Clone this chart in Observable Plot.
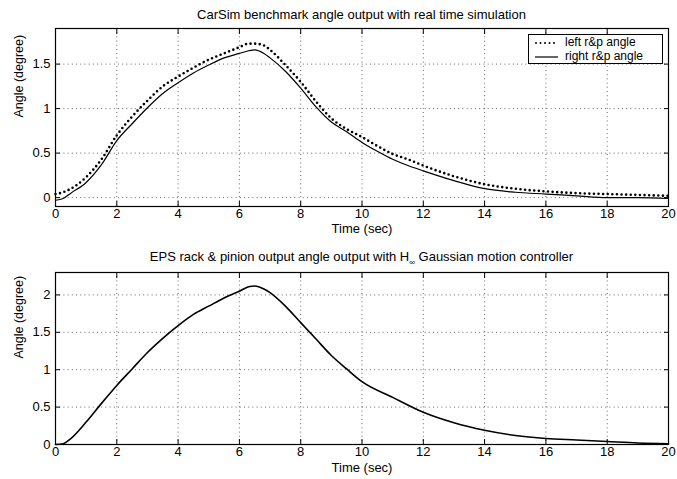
<!DOCTYPE html>
<html><head><meta charset="utf-8">
<script src="https://cdn.jsdelivr.net/npm/d3@7"></script>
<script src="https://cdn.jsdelivr.net/npm/@observablehq/plot@0.6"></script>
<style>
body{margin:0;background:#fff;font-family:"Liberation Sans",Arial,sans-serif;}
#wrap{position:relative;width:677px;height:479px;overflow:hidden;background:#fff}
.title{position:absolute;left:55px;width:613px;text-align:center;font-size:13px;color:#000;line-height:15px;white-space:nowrap}
.title sub{font-size:8px;vertical-align:-4px;line-height:0}
.p{position:absolute;left:0}
#legend{position:absolute;left:528px;top:34px;width:133px;height:28px;border:1px solid #000;background:#fff;font-size:12px;color:#000}
#legend .row{position:absolute;left:0;height:14px;line-height:14px;white-space:nowrap}
#legend svg{position:absolute;left:5px;top:0}
#legend span{position:absolute;left:36px;top:0;line-height:13px}
</style></head><body>
<div id="wrap">
  <div class="title" style="top:7px">CarSim benchmark angle output with real time simulation</div>
  <div class="p" id="p1" style="top:0px"></div>
  <div class="title" style="top:249px">EPS rack &amp; pinion output angle output with H<sub>∞</sub> Gaussian motion controller</div>
  <div class="p" id="p2" style="top:240px"></div>
  <div id="legend">
    <div class="row" style="top:1px"><svg width="26" height="14"><line x1="2" y1="7" x2="24" y2="7" stroke="#000" stroke-width="2" stroke-dasharray="0,4.5" stroke-linecap="round"/></svg><span>left r&amp;p angle</span></div>
    <div class="row" style="top:15px"><svg width="26" height="14"><line x1="1" y1="7" x2="24" y2="7" stroke="#000" stroke-width="1.2"/></svg><span>right r&amp;p angle</span></div>
  </div>
</div>
<script>
// ---- data ----
const xTicks = [0, 2, 4, 6, 8, 10, 12, 14, 16, 18, 20];
const yTicksTop = [0, 0.5, 1, 1.5];
const yTicksBottom = [0, 0.5, 1, 1.5, 2];

const timeTop = [0,0.25,0.5,1,1.5,2,2.5,3,3.5,4,4.5,5,5.5,6,6.3,6.5,6.8,7,7.5,8,8.5,9,9.5,10,10.5,11,11.5,12,13,14,15,16,17,18,19,20];
const leftAngle = [0.04,0.06,0.10,0.23,0.43,0.70,0.91,1.09,1.25,1.36,1.46,1.55,1.62,1.69,1.73,1.73,1.71,1.66,1.49,1.30,1.08,0.89,0.77,0.68,0.58,0.49,0.43,0.36,0.24,0.15,0.10,0.07,0.05,0.04,0.03,0.02];
const rightAngle = [-0.03,-0.01,0.05,0.17,0.37,0.64,0.83,1.01,1.17,1.29,1.40,1.49,1.57,1.62,1.65,1.66,1.62,1.57,1.42,1.23,1.02,0.85,0.74,0.62,0.52,0.43,0.36,0.30,0.19,0.10,0.06,0.04,0.02,0.0,0.0,-0.01];

const timeBottom = [0,0.25,0.5,1,1.5,2,2.5,3,3.5,4,4.5,5,5.5,6,6.3,6.5,6.8,7,7.5,8,8.5,9,9.5,10,11,12,13,14,15,16,17,18,19,20];
const epsAngle = [0,0.01,0.08,0.30,0.55,0.79,1.01,1.23,1.42,1.59,1.74,1.85,1.96,2.05,2.11,2.12,2.08,2.03,1.85,1.63,1.41,1.19,1.01,0.84,0.63,0.43,0.29,0.19,0.12,0.08,0.06,0.04,0.02,0.01];

const leftData = timeTop.map((t, i) => ({t, v: leftAngle[i]}));
const rightData = timeTop.map((t, i) => ({t, v: rightAngle[i]}));
const epsData = timeBottom.map((t, i) => ({t, v: epsAngle[i]}));

const FONT = "Liberation Sans, Arial, Helvetica, sans-serif";

function panel({height, mt, mb, yDomain, yTicks, lines, xLabelDy}) {
  const grid = {stroke: "#000", strokeOpacity: 0.75, strokeWidth: 0.8, strokeDasharray: "1,3.2"};
  return Plot.plot({
    width: 677, height,
    marginTop: mt, marginBottom: mb, marginLeft: 55, marginRight: 9,
    style: {fontFamily: FONT, fontSize: "13px", color: "#000", background: "transparent", overflow: "visible"},
    x: {domain: [0, 20]},
    y: {domain: yDomain},
    marks: [
      Plot.gridX(xTicks, grid),
      Plot.gridY(yTicks, grid),
      Plot.axisX(xTicks, {anchor: "bottom", tickSize: 0, tickPadding: 2, tickFormat: d => String(d), label: null, fontSize: 13}),
      Plot.axisX(xTicks, {anchor: "bottom", tickSize: -5, tickFormat: () => "", label: null}),
      Plot.axisX(xTicks, {anchor: "top", tickSize: -5, tickFormat: () => "", label: null}),
      Plot.axisY(yTicks, {anchor: "left", tickSize: 0, tickPadding: 5, tickFormat: d => String(d), label: null, fontSize: 13}),
      Plot.axisY(yTicks, {anchor: "left", tickSize: -5, tickFormat: () => "", label: null}),
      Plot.axisY(yTicks, {anchor: "right", tickSize: -5, tickFormat: () => "", label: null}),
      ...lines,
      Plot.frame({stroke: "#000", strokeWidth: 1.2}),
      Plot.text(["Time (sec)"], {text: d => d, frameAnchor: "bottom", dy: xLabelDy, fontSize: 13, fill: "#000"}),
      Plot.text(["Angle (degree)"], {text: d => d, frameAnchor: "left", dx: -37, rotate: -90, fontSize: 12.5, fill: "#000"})
    ]
  });
}

const p1 = panel({
  height: 240, mt: 28, mb: 34, yDomain: [-0.1, 1.9], yTicks: yTicksTop, xLabelDy: 26,
  lines: [
    Plot.line(rightData, {x: "t", y: "v", stroke: "#000", strokeWidth: 1.2, curve: "monotone-x"}),
    Plot.line(leftData, {x: "t", y: "v", stroke: "#000", strokeWidth: 2.6, strokeDasharray: "0,4.6", strokeLinecap: "round", curve: "monotone-x"})
  ]
});
document.getElementById("p1").appendChild(p1);

const p2 = panel({
  height: 239, mt: 32, mb: 35, yDomain: [0, 2.3], yTicks: yTicksBottom, xLabelDy: 27,
  lines: [
    Plot.line(epsData, {x: "t", y: "v", stroke: "#000", strokeWidth: 1.6, curve: "monotone-x"})
  ]
});
document.getElementById("p2").appendChild(p2);
</script>
</body></html>
